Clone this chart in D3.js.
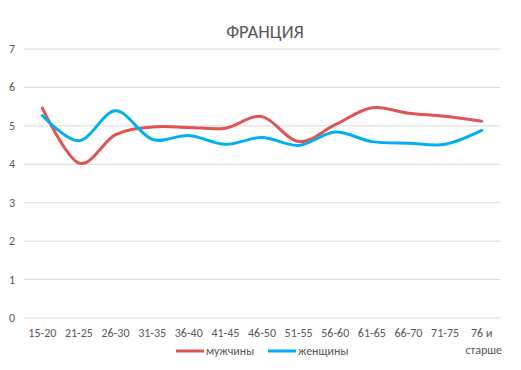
<!DOCTYPE html>
<html><head><meta charset="utf-8">
<script src="https://cdn.jsdelivr.net/npm/d3@7"></script>
<style>body{margin:0;background:#fff}text{font-family:Calibri,Carlito,"Open Sans","Noto Sans",sans-serif}</style>
</head><body><svg id="c" width="521" height="370"></svg>
<script>
const categories = ["15-20","21-25","26-30","31-35","36-40","41-45","46-50","51-55","56-60","61-65","66-70","71-75","76 и старше"];
const men = [5.46,4.03,4.77,4.97,4.96,4.94,5.24,4.59,5.03,5.47,5.33,5.25,5.12];
const women = [5.27,4.61,5.39,4.65,4.75,4.52,4.70,4.49,4.84,4.59,4.55,4.52,4.88];
const yTicks = [0,1,2,3,4,5,6,7];
const seriesNames = ["мужчины","женщины"];
const colors = ["#E05454","#00B0F0"];

const svg = d3.select("#c");
const x = d3.scaleBand().domain(categories).range([24,500]);
const y = d3.scaleLinear().domain([0,7]).range([318,49]);
const grey = "#595959";

svg.append("text").attr("x",265).attr("y",38).attr("text-anchor","middle")
  .attr("font-size",18.5).attr("fill",grey).text("ФРАНЦИЯ");

const g = svg.append("g");
yTicks.forEach(t=>{
  g.append("line").attr("x1",24).attr("x2",500).attr("y1",y(t)).attr("y2",y(t))
   .attr("stroke","#d9d9d9").attr("stroke-width",1);
  g.append("text").attr("x",12).attr("y",y(t)+4).attr("text-anchor","middle")
   .attr("font-size",12).attr("fill",grey).text(t);
});

categories.forEach(c=>{
  const cx = x(c)+x.bandwidth()/2;
  const parts = c==="76 и старше" ? ["76 и","старше"] : [c];
  parts.forEach((p,i)=>{
    svg.append("text").attr("x",cx+(i===1?2:0)).attr("y",337+i*17).attr("text-anchor","middle")
      .attr("font-size",12).attr("fill",grey).text(p);
  });
});

const line = d3.line().x((d,i)=>x(categories[i])+x.bandwidth()/2).y(d=>y(d))
  .curve(d3.curveCardinal.tension(0));
[men,women].forEach((s,k)=>{
  svg.append("path").attr("d",line(s)).attr("fill","none")
    .attr("stroke",colors[k]).attr("stroke-width",3).attr("stroke-linecap","round");
});

const legX = [176,268];
seriesNames.forEach((n,k)=>{
  svg.append("line").attr("x1",legX[k]).attr("x2",legX[k]+28).attr("y1",351).attr("y2",351)
    .attr("stroke",colors[k]).attr("stroke-width",3);
  svg.append("text").attr("x",legX[k]+30).attr("y",355).attr("font-size",12)
    .attr("fill",grey).text(n);
});
</script></body></html>
